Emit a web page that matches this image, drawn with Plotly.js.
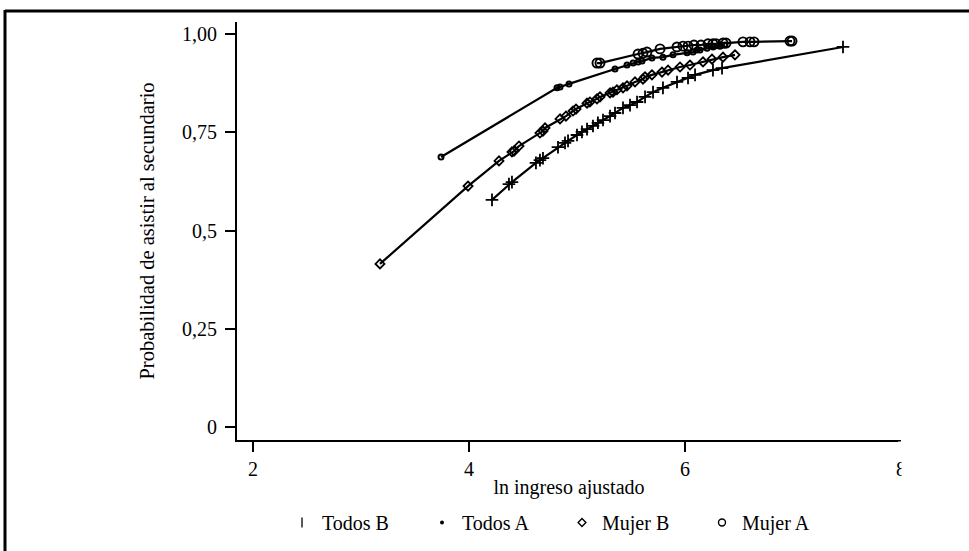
<!DOCTYPE html>
<html>
<head>
<meta charset="utf-8">
<script src="https://cdn.plot.ly/plotly-3.0.1.min.js"></script>
<style>
html,body{margin:0;padding:0;background:#fff;}
#chart{width:969px;height:551px;}
</style>
</head>
<body>
<div id="chart"></div>
<script>
// ---- data ----
const seriesNames = ["Todos B", "Todos A", "Mujer B", "Mujer A"];

const todosB_x = [4.213,4.370,4.398,4.620,4.657,4.685,4.824,4.889,4.917,5.000,5.046,5.093,5.148,5.194,5.241,5.306,5.352,5.426,5.491,5.556,5.630,5.704,5.796,5.926,6.028,6.093,6.259,6.343,7.463];
const todosB_y = [0.578,0.618,0.623,0.672,0.679,0.684,0.712,0.723,0.728,0.743,0.751,0.758,0.766,0.774,0.781,0.791,0.799,0.812,0.819,0.827,0.840,0.852,0.863,0.878,0.888,0.896,0.908,0.913,0.967];

const todosA_x = [3.741,4.815,4.843,4.926,5.352,5.463,5.519,5.565,5.602,5.694,5.796,5.889,6.019,6.074,6.111,6.139,6.204,6.259,6.324,6.370];
const todosA_y = [0.687,0.863,0.865,0.873,0.911,0.921,0.926,0.929,0.931,0.939,0.941,0.947,0.952,0.954,0.959,0.959,0.964,0.967,0.969,0.972];

const mujerB_x = [3.176,3.991,4.278,4.398,4.417,4.463,4.657,4.685,4.704,4.843,4.898,4.963,4.991,5.093,5.120,5.185,5.213,5.306,5.333,5.370,5.426,5.463,5.537,5.611,5.630,5.694,5.787,5.843,5.954,6.046,6.167,6.250,6.352,6.463];
const mujerB_y = [0.415,0.613,0.677,0.700,0.702,0.715,0.748,0.753,0.761,0.784,0.791,0.804,0.809,0.824,0.827,0.835,0.840,0.850,0.852,0.858,0.863,0.868,0.878,0.885,0.891,0.896,0.903,0.908,0.916,0.921,0.929,0.936,0.941,0.947];

const mujerA_x = [5.185,5.213,5.565,5.611,5.648,5.769,5.926,5.981,6.028,6.083,6.148,6.213,6.259,6.287,6.352,6.380,6.537,6.602,6.639,6.972,6.991];
const mujerA_y = [0.926,0.926,0.949,0.951,0.954,0.962,0.967,0.969,0.969,0.972,0.972,0.975,0.975,0.975,0.977,0.977,0.980,0.980,0.980,0.982,0.982];

const xTickVals = [2, 4, 6, 8];
const xTickText = ["2", "4", "6", "8"];
const yTickVals = [0, 0.25, 0.5, 0.75, 1];
const yTickText = ["0", "0,25", "0,5", "0,75", "1,00"];

// ---- styles ----
const FONT = "Liberation Serif, Times New Roman, serif";
const markerStyles = [
  {symbol: "cross-thin", size: 9, color: "#000", line: {color: "#000", width: 1.8}},
  {symbol: "circle-open", size: 5, color: "#000", line: {color: "#000", width: 2}},
  {symbol: "diamond-open", size: 7, color: "#000", line: {color: "#000", width: 1.8}},
  {symbol: "circle-open", size: 9, color: "#000", line: {color: "#000", width: 1.9}}
];
const legendMarkers = [
  {symbol: "line-ns", size: 7, color: "#000", line: {color: "#000", width: 1.3}},
  {symbol: "circle", size: 4, color: "#000", line: {color: "#000", width: 0}},
  {symbol: "diamond-open", size: 6, color: "#000", line: {color: "#000", width: 1.4}},
  {symbol: "circle-open", size: 7, color: "#000", line: {color: "#000", width: 1.4}}
];

const xs = [todosB_x, todosA_x, mujerB_x, mujerA_x];
const ys = [todosB_y, todosA_y, mujerB_y, mujerA_y];

const traces = [];
for (let i = 0; i < 4; i++) {
  traces.push({
    type: "scatter", mode: "lines+markers",
    x: xs[i], y: ys[i], name: seriesNames[i],
    line: {color: "#000", width: 2.2},
    marker: markerStyles[i],
    showlegend: false, legendgroup: "g" + i
  });
}
for (let i = 0; i < 4; i++) {
  traces.push({
    type: "scatter", mode: "markers",
    x: [null], y: [null], name: seriesNames[i],
    marker: legendMarkers[i],
    showlegend: true, legendgroup: "g" + i
  });
}

const W = 969, H = 551, L = 237, R = 68, T = 22, B = 111;
const pw = W - L - R, ph = H - T - B;
const px = v => (v - L) / pw;
const py = v => (H - B - v) / ph;

const layout = {
  width: W, height: H,
  margin: {l: L, r: R, t: T, b: B, pad: 0, autoexpand: false},
  paper_bgcolor: "#fff", plot_bgcolor: "#fff",
  font: {family: FONT, size: 20, color: "#000"},
  showlegend: true,
  legend: {
    orientation: "h", x: px(282), xanchor: "left", y: py(503), yanchor: "top",
    font: {family: FONT, size: 20, color: "#000"},
    entrywidth: 95, entrywidthmode: "pixels", itemwidth: 30,
    bgcolor: "rgba(0,0,0,0)", borderwidth: 0, traceorder: "normal"
  },
  xaxis: {
    range: [1.852, 8.0], showgrid: false, zeroline: false,
    showline: true, linecolor: "#000", linewidth: 2,
    ticks: "outside", ticklen: 10, tickwidth: 2, tickcolor: "#000",
    tickmode: "array", tickvals: xTickVals, ticktext: xTickText,
    tickfont: {family: FONT, size: 20, color: "#000"},
    title: {text: "ln ingreso ajustado", font: {family: FONT, size: 20, color: "#000"}, standoff: 1},
    automargin: false, fixedrange: true
  },
  yaxis: {
    range: [-0.033, 1.0305], showgrid: false, zeroline: false,
    showline: true, linecolor: "#000", linewidth: 2,
    ticks: "outside", ticklen: 10, tickwidth: 2, tickcolor: "#000",
    tickmode: "array", tickvals: yTickVals, ticktext: yTickText,
    tickfont: {family: FONT, size: 20, color: "#000"},
    ticklabelstandoff: 4,
    title: {text: "Probabilidad de asistir al secundario", font: {family: FONT, size: 20.5, color: "#000"}, standoff: 22},
    automargin: false, fixedrange: true
  },
  shapes: [
    // outer frame (top and left edges visible)
    {type: "line", xref: "paper", yref: "paper", x0: px(5), x1: px(975), y0: py(11), y1: py(11), line: {color: "#000", width: 3}, layer: "above"},
    {type: "line", xref: "paper", yref: "paper", x0: px(5), x1: px(5), y0: py(10), y1: py(560), line: {color: "#000", width: 3}, layer: "above"},
    // clipping of the right edge (half "8" label, no tick)
    {type: "rect", xref: "paper", yref: "paper", x0: px(901.5), x1: px(960), y0: py(480), y1: py(452), fillcolor: "#fff", line: {width: 0}, layer: "above"},
    {type: "rect", xref: "paper", yref: "paper", x0: px(898), x1: px(960), y0: py(452), y1: py(441.6), fillcolor: "#fff", line: {width: 0}, layer: "above"}
  ]
};

Plotly.newPlot("chart", traces, layout, {displayModeBar: false, staticPlot: true});
</script>
</body>
</html>
